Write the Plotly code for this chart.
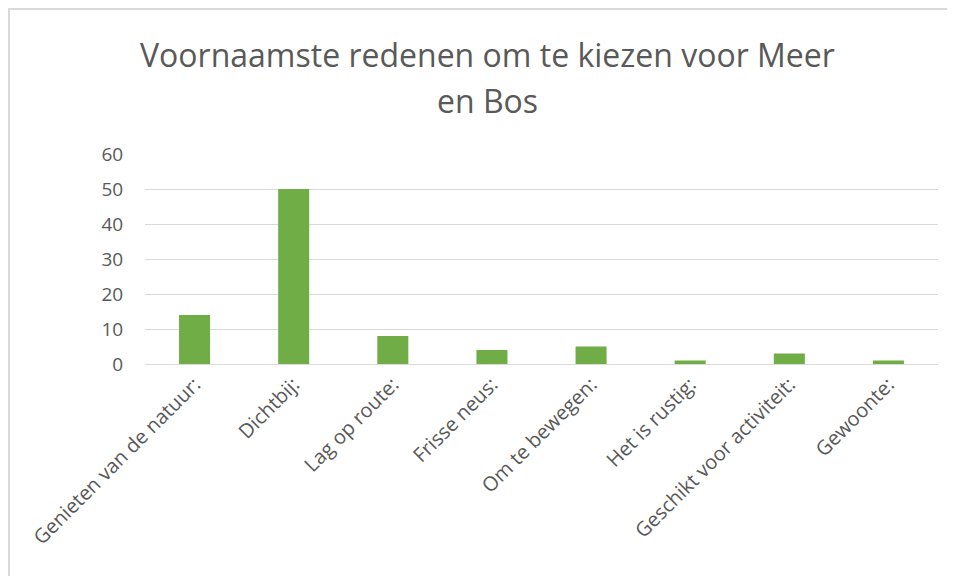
import plotly.graph_objects as go

categories = ["Genieten van de natuur:", "Dichtbij:", "Lag op route:", "Frisse neus:",
              "Om te bewegen:", "Het is rustig:", "Geschikt voor activiteit:", "Gewoonte:"]
values = [14, 50, 8, 4, 5, 1, 3, 1]
y_ticks = [0, 10, 20, 30, 40, 50, 60]
title_lines = ["Voornaamste redenen om te kiezen voor Meer", "en Bos"]

W, H = 955, 576
L, R, T, B = 137, 25, 146, 220
PW, PH = W - L - R, H - T - B

fig = go.Figure(go.Bar(x=categories, y=values, marker=dict(color="#70AD47", line=dict(width=0))))

fig.update_layout(
    width=W, height=H,
    margin=dict(l=L, r=R, t=T, b=B),
    paper_bgcolor="white", plot_bgcolor="white",
    bargap=0.687,
    showlegend=False,
    font=dict(family="Open Sans", color="#595959"),
)
# title as two annotations for exact line placement
for i, (txt, yc) in enumerate(zip(title_lines, [47, 92])):
    fig.add_annotation(text=txt, xref="paper", yref="paper",
                       x=(479.5 - L) / PW, y=(H - B - yc) / PH,
                       xanchor="center", yanchor="middle", showarrow=False,
                       font=dict(family="Open Sans", size=32, color="#595959"))

fig.update_xaxes(tickangle=-45, tickfont=dict(size=20, color="#595959"),
                 showline=True, linecolor="#D9D9D9", linewidth=1, ticks="",
                 showgrid=False)
fig.update_yaxes(range=[0, 60], tickvals=y_ticks, showgrid=True, gridcolor="#D9D9D9",
                 gridwidth=1, zeroline=False, showline=False, ticks="outside",
                 ticklen=17, tickcolor="rgba(0,0,0,0)",
                 tickfont=dict(size=19, color="#595959"))

# chart border
fig.add_shape(type="rect", xref="paper", yref="paper",
              x0=(1 - L) / PW, x1=(W + 5 - L) / PW,
              y0=(-B - 5) / PH, y1=(H - B - 1) / PH,
              line=dict(color="#D9D9D9", width=2), layer="below")

fig.write_html("out.html")
